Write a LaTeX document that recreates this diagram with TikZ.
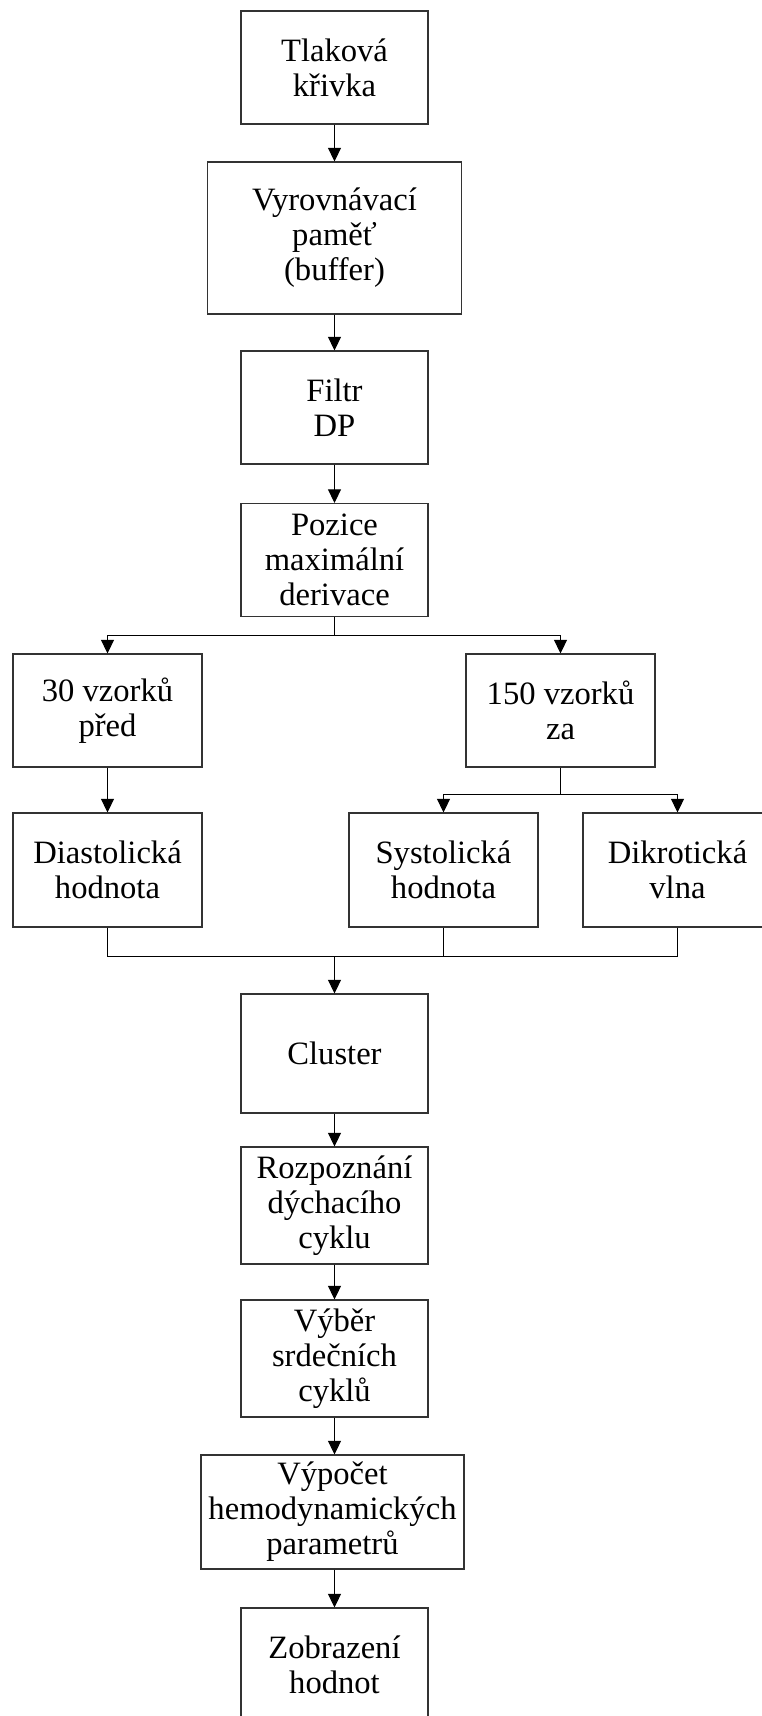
\documentclass[tikz,border=0pt]{standalone}
\usepackage{fontspec}
\setmainfont{Liberation Serif}
\usetikzlibrary{arrows.meta}
\tikzset{
  blok/.style={draw=black!80, line width=0.55pt, align=center, inner sep=2pt,
    minimum width=93.5pt, minimum height=56.5pt,
    font=\fontsize{16.3}{17.5}\selectfont},
  sipka/.style={-{Triangle[width=6.5pt,length=6.8pt]}, line width=0.5pt},
  cara/.style={line width=0.5pt}
}
\begin{document}
\begin{tikzpicture}[x=0.5pt, y=-0.5pt]
        \useasboundingbox (0,0) rectangle (761,1716);
        \node[blok] (tlak) at (334.5,67.5) {Tlaková\\křivka};
        \node[blok, minimum width=127pt, minimum height=76pt] (buffer) at (334.5,238) {Vyrovnávací\\paměť\\(buffer)};
        \node[blok] (filtr) at (334.5,407.5) {Filtr\\DP};
        \node[blok] (pozice) at (334.5,560) {Pozice\\maximální\\derivace};
        \node[blok, minimum width=94.5pt] (pred) at (107.5,710.5) {30 vzorků\\před};
        \node[blok, minimum width=94.5pt] (za) at (560.5,710.5) {150 vzorků\\za};
        \node[blok, minimum width=94.5pt, minimum height=57pt] (diast) at (107.5,870) {Diastolická\\hodnota};
        \node[blok, minimum width=94.5pt, minimum height=57pt] (syst) at (443.5,870) {Systolická\\hodnota};
        \node[blok, minimum width=94.5pt, minimum height=57pt] (dikr) at (677.5,870) {Dikrotická\\vlna};
        \node[blok, minimum height=59.5pt] (cluster) at (334.5,1053.5) {Cluster};
        \node[blok, minimum height=58.5pt] (dych) at (334.5,1205.5) {Rozpoznání\\dýchacího\\cyklu};
        \node[blok, minimum height=58.5pt] (vyber) at (334.5,1358.5) {Výběr\\srdečních\\cyklů};
        \node[blok, minimum width=131.5pt, minimum height=57pt] (vypocet) at (332.5,1512) {Výpočet\\hemodynamických\\parametrů};
        \node[blok] (zobraz) at (334.5,1664.5) {Zobrazení\\hodnot};
        \coordinate (deleni) at (334.5,635);
        \coordinate (deleniza) at (560.5,794);
        \coordinate (spoj) at (334.5,956);
        \draw[sipka] (tlak) -- (buffer);
        \draw[sipka] (buffer) -- (filtr);
        \draw[sipka] (filtr) -- (pozice);
        \draw[cara] (pozice) -- (deleni);
        \draw[sipka] (deleni) -| (pred);
        \draw[sipka] (deleni) -| (za);
        \draw[sipka] (pred) -- (diast);
        \draw[cara] (za) -- (deleniza);
        \draw[sipka] (deleniza) -| (syst);
        \draw[sipka] (deleniza) -| (dikr);
        \draw[cara] (diast) |- (spoj);
        \draw[cara] (dikr) |- (spoj);
        \draw[cara] (syst) -- (syst |- spoj);
        \draw[sipka] (spoj) -- (cluster);
        \draw[sipka] (cluster) -- (dych);
        \draw[sipka] (dych) -- (vyber);
        \draw[sipka] (vyber.south) -- (vyber.south |- vypocet.north);
        \draw[sipka] (vypocet.south -| zobraz) -- (zobraz);
      \end{tikzpicture}
\end{document}
